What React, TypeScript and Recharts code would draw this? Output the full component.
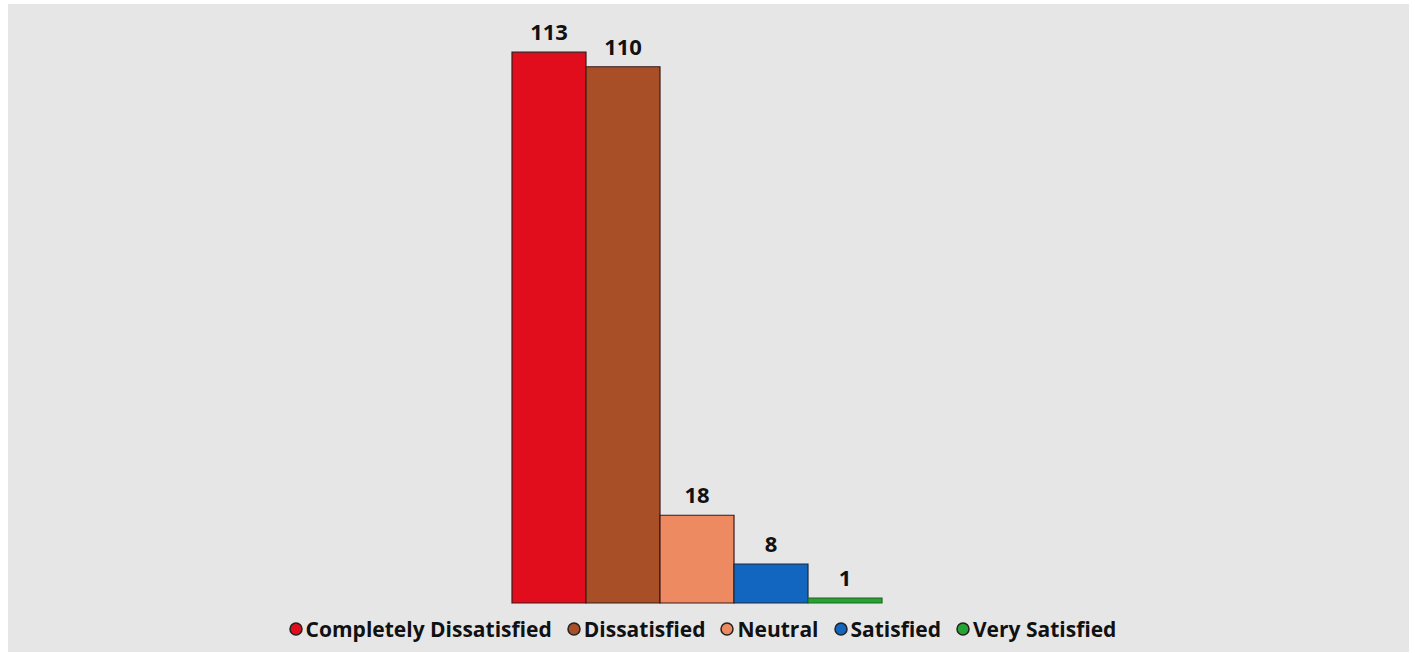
import React from "react";
import { BarChart, Bar, XAxis, YAxis, Legend, LabelList } from "recharts";

const categories = ["Completely Dissatisfied", "Dissatisfied", "Neutral", "Satisfied", "Very Satisfied"];
const values = [113, 110, 18, 8, 1];
const colors = ["#e10c1c", "#a94f27", "#ee8a62", "#1266c0", "#26a332"];
const strokes = ["#3a1a1a", "#3a1a1a", "#3a1a1a", "#1a2a3a", "#1a6a22"];

const row: Record<string, number | string> = { name: "all" };
categories.forEach((c, i) => {
  row[c] = values[i];
});
const data = [row];

const FONT = "'Open Sans', 'Noto Sans', sans-serif";

const renderLegend = () => (
  <div
    style={{
      display: "flex",
      justifyContent: "center",
      alignItems: "center",
      height: 30,
      fontFamily: FONT,
      fontWeight: 700,
      fontSize: 21,
      color: "#111",
      paddingRight: 12,
      boxSizing: "border-box",
    }}
  >
    {categories.map((c, i) => (
      <div key={c} style={{ display: "flex", alignItems: "center", marginRight: i < categories.length - 1 ? 15 : 0 }}>
        <svg width={14} height={14} style={{ marginRight: 3 }}>
          <circle cx={7} cy={7} r={6} fill={colors[i]} stroke="#222" strokeWidth={1.5} />
        </svg>
        <span>{c}</span>
      </div>
    ))}
  </div>
);

export default function App() {
  return (
    <div
      style={{
        position: "absolute",
        left: 8,
        top: 4,
        width: 1401,
        height: 648,
        background: "#e6e6e6",
      }}
    >
      <BarChart
        width={1401}
        height={648}
        data={data}
        margin={{ top: 14, right: 526, left: 504, bottom: 19 }}
        barGap={0}
        barCategoryGap={0}
      >
        <XAxis dataKey="name" hide />
        <YAxis hide domain={[0, 120]} />
        <Legend verticalAlign="bottom" content={renderLegend} wrapperStyle={{ top: 610, left: 0, width: 1401, height: 30 }} />
        {categories.map((c, i) => (
          <Bar key={c} dataKey={c} fill={colors[i]} stroke={strokes[i]} strokeWidth={1.2} isAnimationActive={false}>
            <LabelList
              dataKey={c}
              position="top"
              offset={12}
              style={{ fontFamily: FONT, fontWeight: 700, fontSize: 22, fill: "#111" }}
            />
          </Bar>
        ))}
      </BarChart>
    </div>
  );
}
